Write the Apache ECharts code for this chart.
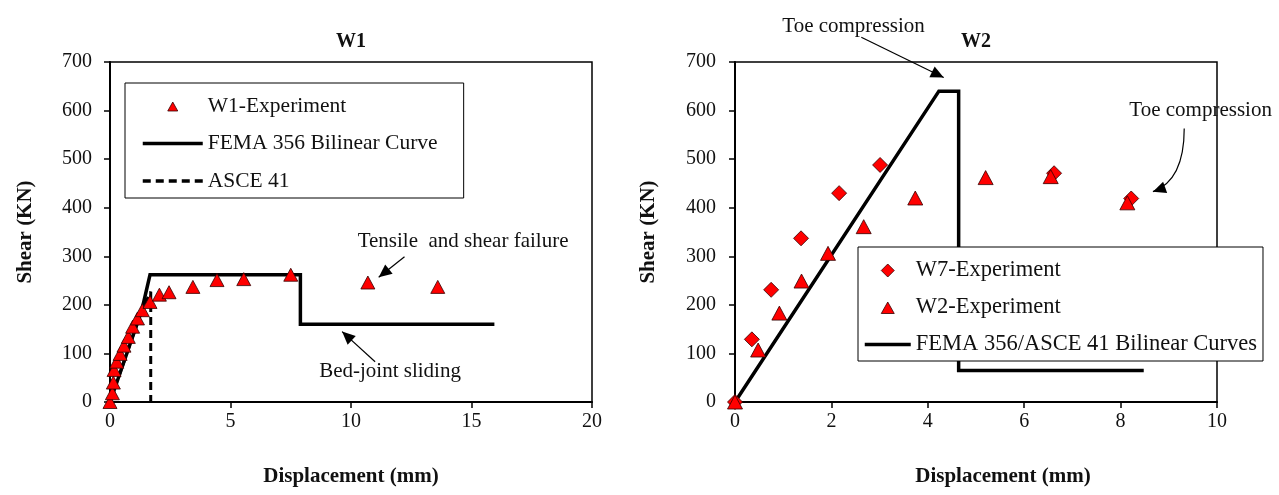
<!DOCTYPE html>
<html>
<head>
<meta charset="utf-8">
<script src="https://cdn.jsdelivr.net/npm/echarts@6/dist/echarts.min.js"></script>
<style>
  html, body { margin: 0; padding: 0; background: #fff; }
  #chart { width: 1279px; height: 495px; }
</style>
</head>
<body>
<div id="chart"></div>
<script>
// ---- W1 wall: displacement (mm), shear (kN) ----
const w1Experiment = [
  [0, 0], [0.1, 18], [0.14, 40], [0.17, 66], [0.28, 83], [0.42, 99], [0.58, 116],
  [0.76, 134], [0.94, 155], [1.14, 172], [1.34, 189], [1.66, 206], [2.05, 221],
  [2.45, 226], [3.44, 237], [4.44, 251], [5.55, 253], [7.5, 262], [10.7, 246], [13.6, 237]
];
const w1Fema = [[0, 0], [1.32, 189], [1.66, 262], [7.9, 262], [7.9, 160], [15.95, 160]];
const w1Asce = [[0, 0], [1.32, 189], [1.69, 227], [1.69, 0]];

// ---- W2 / W7 walls ----
const w7Experiment = [
  [0, 0], [0.35, 129], [0.75, 231], [1.37, 337], [2.16, 430], [3.01, 488], [6.62, 471], [8.22, 419]
];
const w2Experiment = [
  [0, 0], [0.48, 107], [0.92, 183], [1.38, 249], [1.93, 306], [2.67, 361], [3.74, 420],
  [5.2, 462], [6.55, 464], [8.14, 410]
];
const w2Fema = [[0, 0], [4.23, 640], [4.64, 640], [4.64, 65], [8.48, 65]];

// axis ranges: [min, max, interval]
const shearRange = [0, 700, 100];
const w1DispRange = [0, 20, 5];
const w2DispRange = [0, 10, 2];

const FONT = '"Liberation Serif", "Times New Roman", serif';
const TEXT = '#111';
const RED = '#ff0000';

const chart = echarts.init(document.getElementById('chart'));

function valueAxis(range, extra) {
  return Object.assign({
    type: 'value',
    min: range[0], max: range[1], interval: range[2],
    splitLine: { show: false },
    axisLine: { show: true, onZero: false, lineStyle: { color: '#000', width: 2 } },
    axisTick: { show: true, inside: false, length: 6, lineStyle: { color: '#000', width: 1.5 } },
    nameLocation: 'middle'
  }, extra);
}

const tickLabel = m => ({ fontFamily: FONT, fontSize: 20, color: TEXT, margin: m });
const axisName = pad => ({ fontFamily: FONT, fontSize: 21, fontWeight: 'bold', color: TEXT, padding: pad || 0 });

function legendBox(items, pos, iconW, iconH, gap, pad, size) {
  return Object.assign({
    data: items,
    orient: 'vertical',
    itemWidth: iconW,
    itemHeight: iconH,
    itemGap: gap,
    padding: pad,
    borderColor: '#000',
    borderWidth: 1,
    backgroundColor: '#fff',
    selectedMode: false,
    textStyle: { fontFamily: FONT, fontSize: size, color: TEXT, lineHeight: 20 }
  }, pos);
}
const markerStyle = { color: RED, borderColor: '#300', borderWidth: 0.8, opacity: 1 };

// line entries show only their stroke in the key
const lineKey = (name, dash) => ({
  name: name,
  itemStyle: { opacity: 0 },
  lineStyle: { width: 3.5, color: '#000', type: dash || 'solid' }
});
// marker entries: the symbol sits centred in the key slot at its own size
const markerKey = (name, icon) => ({ name: name, icon: icon, itemStyle: markerStyle });
const KEY_TRI_W1 = 'path://M0,0M60,12M25,11L30,2L35,11Z';
const KEY_TRI_W2 = 'path://M0,0M46,14M16.5,13L23,1.5L29.5,13Z';
const KEY_DIA_W7 = 'path://M0,0M46,14M23,0.5L29.5,7L23,13.5L16.5,7Z';

chart.setOption({
  animation: false,
  backgroundColor: '#fff',
  title: [
    { text: 'W1', left: 351, top: 32, textAlign: 'center', padding: 0,
      textStyle: { fontFamily: FONT, fontSize: 20, fontWeight: 'bold', color: TEXT } },
    { text: 'W2', left: 976, top: 32, textAlign: 'center', padding: 0,
      textStyle: { fontFamily: FONT, fontSize: 20, fontWeight: 'bold', color: TEXT } }
  ],
  grid: [
    { left: 110, top: 62, width: 482, height: 340, show: true, borderColor: '#000', borderWidth: 1.5, backgroundColor: 'transparent' },
    { left: 735, top: 62, width: 482, height: 340, show: true, borderColor: '#000', borderWidth: 1.5, backgroundColor: 'transparent' }
  ],
  xAxis: [
    valueAxis(w1DispRange, { gridIndex: 0, name: 'Displacement (mm)', nameGap: 64,
      axisLabel: tickLabel(10), nameTextStyle: axisName() }),
    valueAxis(w2DispRange, { gridIndex: 1, name: 'Displacement (mm)', nameGap: 64,
      axisLabel: tickLabel(10), nameTextStyle: axisName([0, 0, 0, 54]) })
  ],
  yAxis: [
    valueAxis(shearRange, { gridIndex: 0, name: 'Shear (KN)', nameGap: 74,
      axisLabel: tickLabel(18), nameTextStyle: axisName() }),
    valueAxis(shearRange, { gridIndex: 1, name: 'Shear (KN)', nameGap: 76,
      axisLabel: tickLabel(19), nameTextStyle: axisName() })
  ],
  legend: [
    legendBox([
        markerKey('W1-Experiment', KEY_TRI_W1),
        lineKey('FEMA 356 Bilinear Curve'),
        lineKey('ASCE 41', [8, 5])
      ],
      { left: 125, top: 83 }, 60, 12, 15.5, [12, 26, 6, 16], 21.5),
    legendBox([
        markerKey('W7-Experiment', KEY_DIA_W7),
        markerKey('W2-Experiment', KEY_TRI_W2),
        lineKey('FEMA 356/ASCE 41 Bilinear Curves')
      ],
      { left: 858, top: 247 }, 46, 14, 14, [12, 6, 5, 5], 22.5)
  ],
  series: [
    { name: 'FEMA 356 Bilinear Curve', type: 'line', xAxisIndex: 0, yAxisIndex: 0,
      data: w1Fema, symbol: 'none', z: 2, color: '#000',
      lineStyle: { color: '#000', width: 3.5, join: 'miter' } },
    { name: 'ASCE 41', type: 'line', xAxisIndex: 0, yAxisIndex: 0,
      data: w1Asce, symbol: 'none', z: 3, color: '#000',
      lineStyle: { color: '#000', width: 3, type: [8, 5] } },
    { name: 'W1-Experiment', type: 'scatter', xAxisIndex: 0, yAxisIndex: 0,
      data: w1Experiment, symbol: 'triangle', symbolSize: [14, 13],
      clip: false, z: 5, itemStyle: markerStyle },

    { name: 'FEMA 356/ASCE 41 Bilinear Curves', type: 'line', xAxisIndex: 1, yAxisIndex: 1,
      data: w2Fema, symbol: 'none', z: 2, color: '#000',
      lineStyle: { color: '#000', width: 3.5, join: 'miter' } },
    { name: 'W7-Experiment', type: 'scatter', xAxisIndex: 1, yAxisIndex: 1,
      data: w7Experiment, symbol: 'diamond', symbolSize: [15, 15],
      clip: false, z: 4, itemStyle: markerStyle },
    { name: 'W2-Experiment', type: 'scatter', xAxisIndex: 1, yAxisIndex: 1,
      data: w2Experiment, symbol: 'triangle', symbolSize: [15, 14],
      clip: false, z: 5, itemStyle: markerStyle }
  ]
});

// ---- callouts, anchored in data units and placed through the axes ----
const notes = [
  { grid: 0, text: 'Tensile  and shear failure', at: [14.65, 331], from: [12.22, 299], to: [11.15, 257] },
  { grid: 0, text: 'Bed-joint sliding', at: [11.62, 62], from: [11.0, 83], to: [9.63, 145] },
  { grid: 1, text: 'Toe compression', at: [2.46, 774], from: [2.62, 751], to: [4.33, 668] },
  { grid: 1, text: 'Toe compression', at: [9.66, 601], from: [9.32, 563], to: [8.67, 433], bend: [9.32, 456] }
];

function arrowHead(tip, from) {
  const dx = tip[0] - from[0], dy = tip[1] - from[1];
  const len = Math.hypot(dx, dy) || 1;
  const ux = dx / len, uy = dy / len;
  const L = 13, W = 6;
  const bx = tip[0] - ux * L, by = tip[1] - uy * L;
  return [[tip[0], tip[1]], [bx - uy * W, by + ux * W], [bx + uy * W, by - ux * W]];
}

const graphics = [];
notes.forEach(n => {
  const px = v => chart.convertToPixel({ gridIndex: n.grid }, v);
  const at = px(n.at), from = px(n.from), to = px(n.to);
  graphics.push({
    type: 'text', x: at[0], y: at[1], z: 20,
    style: { text: n.text, font: '21px ' + FONT, fill: TEXT, align: 'center', verticalAlign: 'middle' }
  });
  let headBase;
  if (n.bend) {
    const c = px(n.bend);
    graphics.push({
      type: 'bezierCurve', z: 20,
      shape: { x1: from[0], y1: from[1], x2: to[0], y2: to[1], cpx1: c[0], cpy1: c[1] },
      style: { stroke: '#000', lineWidth: 1.2, fill: null }
    });
    headBase = c;
  } else {
    graphics.push({
      type: 'line', z: 20,
      shape: { x1: from[0], y1: from[1], x2: to[0], y2: to[1] },
      style: { stroke: '#000', lineWidth: 1.2 }
    });
    headBase = from;
  }
  graphics.push({
    type: 'polygon', z: 21,
    shape: { points: arrowHead(to, headBase) },
    style: { fill: '#000' }
  });
});
chart.setOption({ graphic: graphics });
</script>
</body>
</html>
